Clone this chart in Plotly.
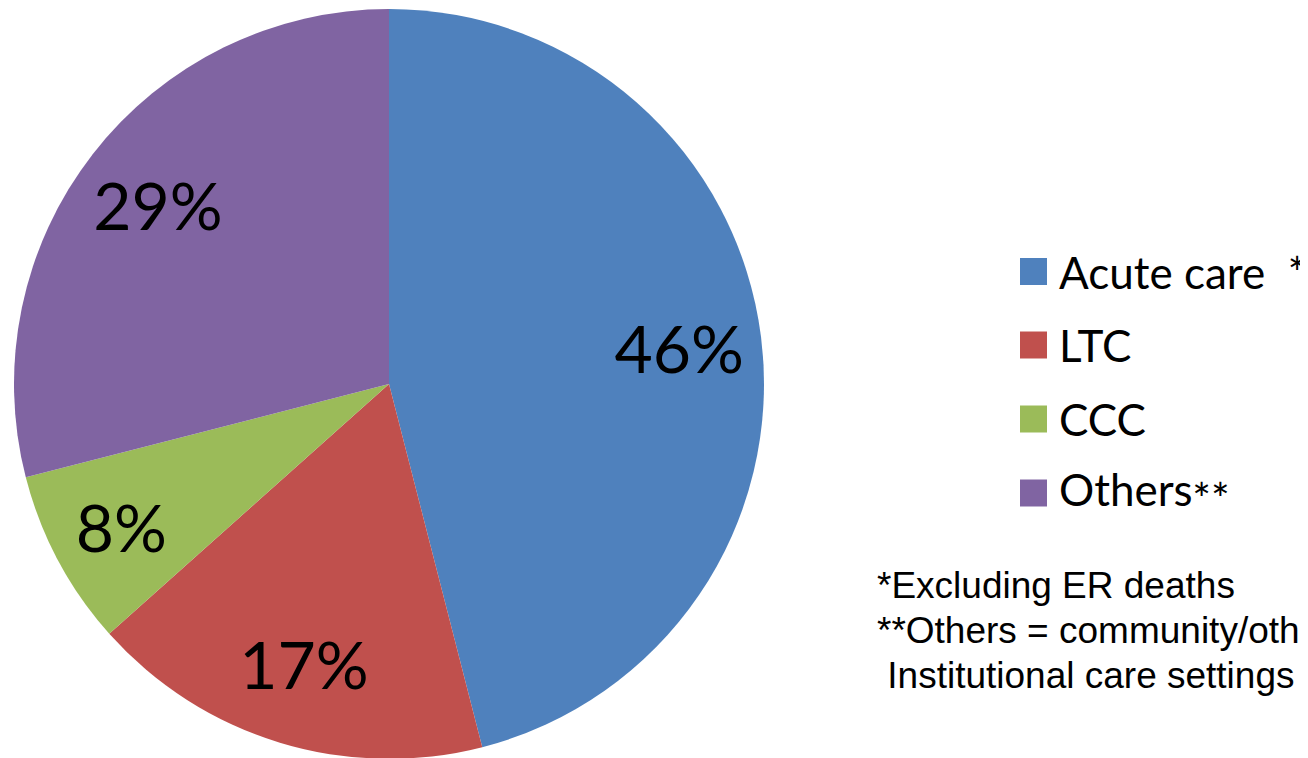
import plotly.graph_objects as go

# Data
categories = ["Acute care", "LTC", "CCC", "Others"]
values = [46.0, 17.4, 7.6, 29.0]
legend_suffix = ["  *", "", "", '<sub><span style="font-size:44px">**</span></sub>']
colors = ["#4F81BD", "#C0504D", "#9BBB59", "#8064A2"]
footnotes = ["*Excluding ER deaths", "**Others = community/other", "&nbsp;Institutional care settings"]

W, H = 1308, 758
OFF = 8  # page body margin offset
MT, MB = 1, 7
PH = H - MT - MB


def px(p):
    return (p - OFF) / W


def py(p):
    return (H - MB - (p - OFF)) / PH


dom = dict(x=[0, 762 / W], y=[0, 1])

fig = go.Figure()
# filled pie
fig.add_trace(go.Pie(
    labels=categories,
    values=values,
    sort=False,
    direction="clockwise",
    rotation=0,
    marker=dict(colors=colors, line=dict(width=0)),
    textinfo="none",
    domain=dom,
    showlegend=False,
    hoverinfo="label+percent",
))
# transparent ring carrying the percentage labels
fig.add_trace(go.Pie(
    labels=categories,
    values=values,
    sort=False,
    direction="clockwise",
    rotation=0,
    hole=0.56,
    marker=dict(colors=["rgba(0,0,0,0)"] * len(values), line=dict(width=0)),
    texttemplate="%{percent:.0%}",
    textposition="inside",
    insidetextorientation="horizontal",
    textfont=dict(family="Lato", size=66, color="black"),
    domain=dom,
    showlegend=False,
    hoverinfo="skip",
))

shapes = []
annotations = []
row_y = [271.5, 345, 419, 493]
for i, (cat, suf, col) in enumerate(zip(categories, legend_suffix, colors)):
    yc = row_y[i]
    shapes.append(dict(type="rect", xref="paper", yref="paper",
                       x0=px(1020), x1=px(1047), y0=py(yc + 13.5), y1=py(yc - 13.5),
                       fillcolor=col, line=dict(width=0)))
    annotations.append(dict(xref="paper", yref="paper", x=px(1057), y=py(yc),
                            xanchor="left", yanchor="middle", showarrow=False,
                            text=cat + suf,
                            font=dict(family="Lato", size=44, color="black")))

foot_y = [585, 630, 675]
foot_x = [875, 875, 875]
for t, fy, fx in zip(footnotes, foot_y, foot_x):
    annotations.append(dict(xref="paper", yref="paper", x=px(fx), y=py(fy),
                            xanchor="left", yanchor="middle", showarrow=False,
                            text=t,
                            font=dict(family="Liberation Sans", size=37, color="black")))

fig.update_layout(
    width=W, height=H,
    margin=dict(l=0, r=0, t=MT, b=MB),
    paper_bgcolor="white",
    plot_bgcolor="white",
    uniformtext=dict(minsize=66, mode="show"),
    shapes=shapes,
    annotations=annotations,
)

fig.write_html("out.html")
